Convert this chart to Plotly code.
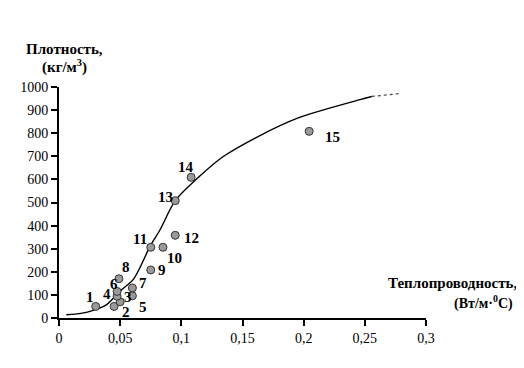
import plotly.graph_objects as go

# Sample points (thermal conductivity, density)
point_ids = ["1", "2", "3", "4", "5", "6", "7", "8", "9", "10", "11", "12", "13", "14", "15"]
point_x = [0.030, 0.045, 0.050, 0.0475, 0.060, 0.0475, 0.060, 0.049, 0.075, 0.085, 0.075, 0.095, 0.095, 0.108, 0.2045]
point_y = [50, 50, 70, 94, 96, 115, 130, 170, 208, 306, 306, 358, 508, 609, 808]

# Label offsets in pixels (dx right, dy down)
label_dx = [-6, 12, 8, -10, 11, -3, 11, 7, 11, 12, -11, 16, -10, -5, 23]
label_dy = [-9, 6, -5, -2, 11, -7, -5, -12, 0, 11, -8, 3, -4, -10, 6]

# Trend curve
curve_x = [0.006, 0.018, 0.028, 0.039, 0.0497, 0.0606, 0.066, 0.0744, 0.0826, 0.095, 0.114, 0.134, 0.160, 0.195, 0.246, 0.2557]
curve_y = [14, 20, 33, 58, 115, 166, 216, 310, 382, 508, 609, 698, 778, 865, 945, 959]
tail_x = [0.2557, 0.2777]
tail_y = [959, 971]

x_ticks = [0, 0.05, 0.1, 0.15, 0.2, 0.25, 0.3]
x_tick_labels = ["0", "0,05", "0,1", "0,15", "0,2", "0,25", "0,3"]
y_ticks = [0, 100, 200, 300, 400, 500, 600, 700, 800, 900, 1000]

serif = "Liberation Serif"

fig = go.Figure()
fig.add_trace(go.Scatter(x=curve_x, y=curve_y, mode="lines",
                         line=dict(color="black", width=1.4, shape="spline", smoothing=0.8),
                         hoverinfo="skip", showlegend=False))
fig.add_trace(go.Scatter(x=tail_x, y=tail_y, mode="lines",
                         line=dict(color="#444", width=1.2, dash="dot"),
                         hoverinfo="skip", showlegend=False))
fig.add_trace(go.Scatter(x=point_x, y=point_y, mode="markers",
                         marker=dict(size=8, color="#9a9a9a", line=dict(color="#333", width=1)),
                         showlegend=False))

for pid, px, py, dx, dy in zip(point_ids, point_x, point_y, label_dx, label_dy):
    fig.add_annotation(x=px, y=py, text="<b>" + pid + "</b>", showarrow=False,
                       xshift=dx, yshift=-dy,
                       font=dict(family=serif, size=15, color="black"))

title_font = dict(family=serif, size=15, color="black")
fig.add_annotation(xref="paper", yref="paper", x=0.016, y=1.165, xanchor="center", yanchor="middle",
                   text="<b>Плотность,</b>", showarrow=False, font=title_font)
fig.add_annotation(xref="paper", yref="paper", x=0.016, y=1.087, xanchor="center", yanchor="middle",
                   text="<b>(кг/м<sup>3</sup>)</b>", showarrow=False, font=title_font)
fig.add_annotation(xref="paper", yref="paper", x=1.074, y=0.152, xanchor="center", yanchor="middle",
                   text="<b>Теплопроводность,</b>", showarrow=False, font=title_font)
fig.add_annotation(xref="paper", yref="paper", x=1.243, y=0.069, xanchor="right", yanchor="middle",
                   text="<b>(Вт/м·<sup>0</sup>С)</b>", showarrow=False,
                   font=dict(family=serif, size=14, color="black"))

fig.update_xaxes(range=[0, 0.3], tickvals=x_ticks, ticktext=x_tick_labels,
                 showgrid=False, zeroline=False, showline=True, linecolor="black", linewidth=2,
                 ticks="outside", ticklen=6, tickwidth=2, tickcolor="black",
                 tickfont=dict(family=serif, size=14, color="black"))
fig.update_yaxes(range=[0, 1000], tickvals=y_ticks,
                 showgrid=False, zeroline=False, showline=True, linecolor="black", linewidth=2,
                 ticks="outside", ticklen=6, tickwidth=2, tickcolor="black",
                 tickfont=dict(family=serif, size=14, color="black"))

fig.update_layout(width=508, height=352, margin=dict(l=51, r=90, t=79, b=42),
                  paper_bgcolor="white", plot_bgcolor="white")

fig.write_html("out.html")
